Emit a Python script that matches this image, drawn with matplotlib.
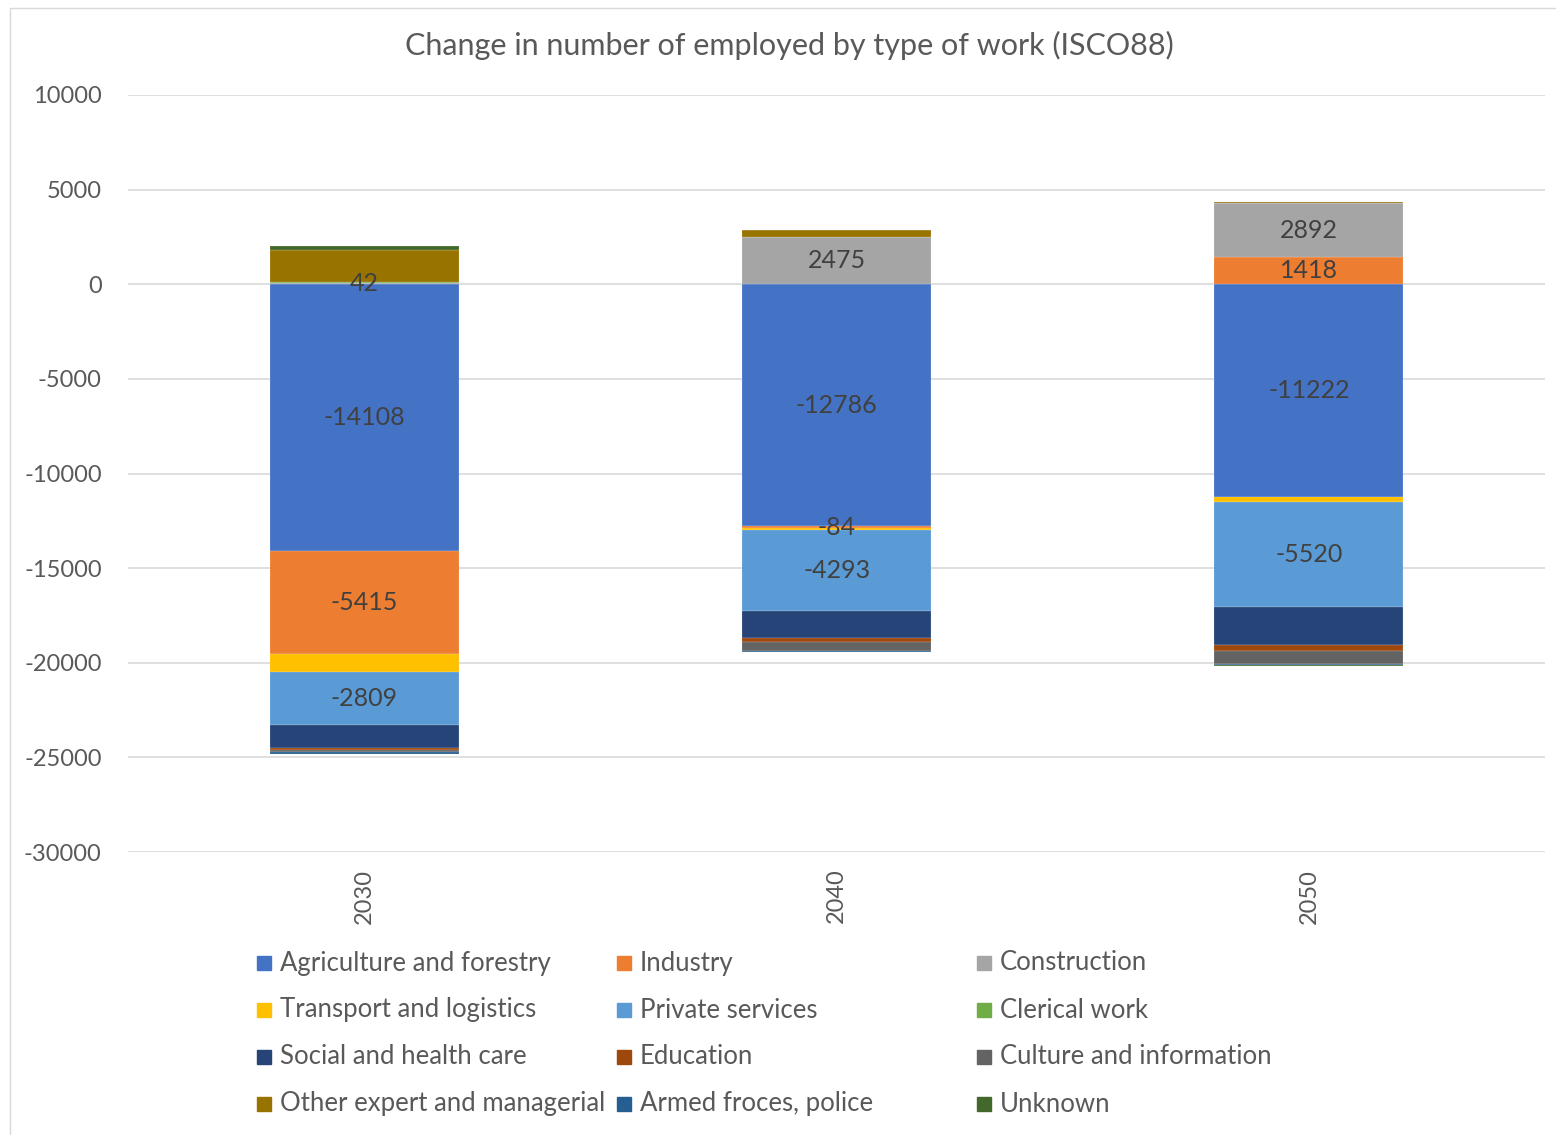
import matplotlib.pyplot as plt
import matplotlib.patches as mpatches
import numpy as np

plt.rcParams['font.family'] = ['Lato', 'DejaVu Sans']
plt.rcParams['axes.unicode_minus'] = False

years = ['2030', '2040', '2050']

series_names = ['Agriculture and forestry', 'Industry', 'Construction',
                'Transport and logistics', 'Private services', 'Clerical work',
                'Social and health care', 'Education', 'Culture and information',
                'Other expert and managerial', 'Armed froces, police', 'Unknown']

agriculture = [-14108, -12786, -11222]
industry = [-5415, -84, 1418]
construction = [42, 2475, 2892]
transport = [-950, -100, -300]
private = [-2809, -4293, -5520]
clerical = [80, 0, 0]
social = [-1200, -1450, -2000]
education = [-100, -210, -350]
culture = [-150, -440, -650]
other_expert = [1700, 380, 50]
armed = [-80, -70, -70]
unknown = [175, 0, -50]

colors = ['#4472C4', '#ED7D31', '#A5A5A5', '#FFC000', '#5B9BD5', '#70AD47',
          '#264478', '#9E480E', '#636363', '#997300', '#255E91', '#43682B']

# series that get data labels in the original
labelled = [0, 1, 2, 4]

data = [agriculture, industry, construction, transport, private, clerical,
        social, education, culture, other_expert, armed, unknown]

fig = plt.figure(figsize=(15.56, 11.35), dpi=100)
ax = fig.add_axes([0.0823, 0.2493, 0.9107, 0.667])

x = np.arange(len(years))
pos_bottom = np.zeros(len(years))
neg_bottom = np.zeros(len(years))
for i, vals in enumerate(data):
    vals = np.array(vals, dtype=float)
    bottom = np.where(vals >= 0, pos_bottom, neg_bottom)
    ax.bar(x, vals, width=0.40, bottom=bottom, color=colors[i],
           edgecolor='#FFFFFF80', linewidth=0.25, zorder=3)
    if i in labelled:
        for j in range(len(years)):
            if vals[j] != 0:
                ax.text(x[j], bottom[j] + vals[j] / 2, f'{int(vals[j])}',
                        ha='center', va='center', fontsize=18,
                        color='#404040', zorder=5)
    pos_bottom = pos_bottom + np.where(vals >= 0, vals, 0)
    neg_bottom = neg_bottom + np.where(vals < 0, vals, 0)

ax.set_xlim(-0.5, 2.5)
ax.set_ylim(-30000, 10000)
ax.set_yticks(np.arange(-30000, 10001, 5000))
ax.grid(axis='y', color='#D9D9D9', linewidth=1.2, zorder=0)
for s in ax.spines.values():
    s.set_visible(False)
ax.tick_params(axis='both', length=0, labelsize=17, colors='#595959')
ax.tick_params(axis='y', pad=19)
ax.set_xticks(x)
ax.set_xticklabels(years, rotation=90)
ax.tick_params(axis='x', pad=12)

fig.text(0.507, 0.96, 'Change in number of employed by type of work (ISCO88)',
         ha='center', va='center', fontsize=22, color='#595959')

# legend, three fixed columns like Excel
col_x = [258, 618, 978]
row_y = [963, 1010, 1057, 1104]
W, H = 1556, 1135
for k, name in enumerate(series_names):
    r, c = divmod(k, 3)
    px, py = col_x[c], row_y[r]
    fig.patches.append(mpatches.Rectangle(((px - 1) / W, 1 - (py + 7) / H), 14 / W, 14 / H,
                                          transform=fig.transFigure, color=colors[k],
                                          figure=fig))
    fig.text((px + 22) / W, 1 - py / H, name, ha='left', va='center',
             fontsize=18.5, color='#595959')

# chart frame
fig.patches.append(mpatches.Rectangle((10 / W, -0.01), 1.0, 1 - 8 / H + 0.01,
                                      transform=fig.transFigure, fill=False,
                                      edgecolor='#D9D9D9', linewidth=1, figure=fig))

fig.savefig('out.png', dpi=100)
